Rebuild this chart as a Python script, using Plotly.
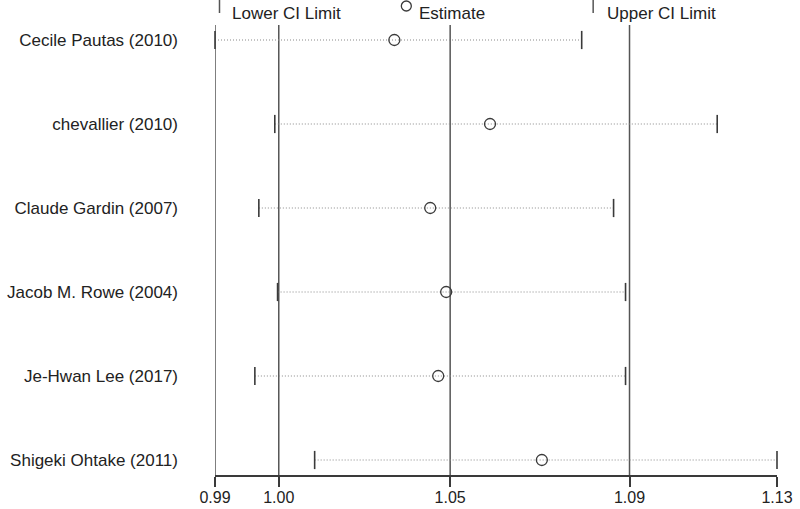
import plotly.graph_objects as go

# ---- data ----
studies = ["Cecile Pautas (2010)", "chevallier (2010)", "Claude Gardin (2007)",
           "Jacob M. Rowe (2004)", "Je-Hwan Lee (2017)", "Shigeki Ohtake (2011)"]
lower_ci = [0.987, 1.002, 0.998, 1.0027, 0.997, 1.012]
estimate = [1.032, 1.056, 1.041, 1.045, 1.043, 1.069]
upper_ci = [1.079, 1.113, 1.087, 1.090, 1.090, 1.128]
overall_lower = 1.003
overall_est = 1.046
overall_upper = 1.091
tick_labels = ["0.99", "1.00", "1.05", "1.09", "1.13"]

x_min = min(lower_ci)
x_max = max(upper_ci)
tick_vals = [x_min, overall_lower, overall_est, overall_upper, x_max]

FONT = "Liberation Sans, Arial, Helvetica, sans-serif"
DARK = "#3a3a3a"

fig = go.Figure()

# dotted CI lines
for s, lo, hi in zip(studies, lower_ci, upper_ci):
    fig.add_trace(go.Scatter(
        x=[lo, hi], y=[s, s], mode="lines",
        line=dict(color="#8a8a8a", width=1.2, dash="1px,2px"),
        showlegend=False, hoverinfo="skip", cliponaxis=False))

# lower / upper limit ticks
fig.add_trace(go.Scatter(
    x=lower_ci, y=studies, mode="markers", name="Lower CI Limit",
    marker=dict(symbol="line-ns", size=13, line=dict(color=DARK, width=1.6)),
    showlegend=False, cliponaxis=False))
fig.add_trace(go.Scatter(
    x=upper_ci, y=studies, mode="markers", name="Upper CI Limit",
    marker=dict(symbol="line-ns", size=13, line=dict(color=DARK, width=1.6)),
    showlegend=False, cliponaxis=False))
# estimates
fig.add_trace(go.Scatter(
    x=estimate, y=studies, mode="markers", name="Estimate",
    marker=dict(symbol="circle-open", size=11, color=DARK, line=dict(color=DARK, width=1.3)),
    showlegend=False, cliponaxis=False))

# vertical reference lines
for v in [x_min, overall_lower, overall_est, overall_upper]:
    fig.add_shape(type="line", xref="x", yref="paper", x0=v, x1=v, y0=0, y1=1,
                  line=dict(color="#555555", width=1.5), layer="below")

# legend drawn at top (paper coordinates)
L, R, T, B = 214.5, 777.0, 25.0, 475.0
def px(xp):
    return (xp - L) / (R - L)
def py(yp):
    return (B - yp) / (B - T)

fig.add_shape(type="line", xref="paper", yref="paper", x0=px(219), x1=px(219),
              y0=py(0), y1=py(13), line=dict(color="#555555", width=1.5))
fig.add_shape(type="line", xref="paper", yref="paper", x0=px(593), x1=px(593),
              y0=py(0), y1=py(13), line=dict(color="#555555", width=1.5))
fig.add_shape(type="circle", xref="paper", yref="paper", x0=px(401), x1=px(411),
              y0=py(11), y1=py(1), line=dict(color=DARK, width=1.3))
for txt, xp in [("Lower CI Limit", 230), ("Estimate", 417), ("Upper CI Limit", 605)]:
    fig.add_annotation(text=txt, xref="paper", yref="paper", x=px(xp), y=py(14),
                       xanchor="left", yanchor="middle", showarrow=False,
                       font=dict(family=FONT, size=17, color="#222222"))

fig.update_xaxes(range=[x_min, x_max], tickmode="array", tickvals=tick_vals,
                 ticktext=tick_labels, showline=True, linecolor=DARK, linewidth=1.5,
                 ticks="outside", ticklen=10, tickwidth=1.5, tickcolor=DARK,
                 showgrid=False, zeroline=False, automargin=False,
                 ticklabelstandoff=-3,
                 tickfont=dict(family=FONT, size=16, color="#222222"))
fig.update_yaxes(type="category", categoryorder="array", categoryarray=studies,
                 range=[5 + 0.1786, -0.1786], showgrid=False, zeroline=False,
                 showline=False, ticks="", ticklabelstandoff=36, automargin=False,
                 tickfont=dict(family=FONT, size=17, color="#222222"))

fig.update_layout(width=800, height=509, plot_bgcolor="white", paper_bgcolor="white",
                  margin=dict(l=214.5, r=23, t=25, b=34), showlegend=False)

fig.write_html("out.html", config={"displayModeBar": False},
               post_script="document.body.style.margin='0px';document.body.style.overflow='hidden';")
